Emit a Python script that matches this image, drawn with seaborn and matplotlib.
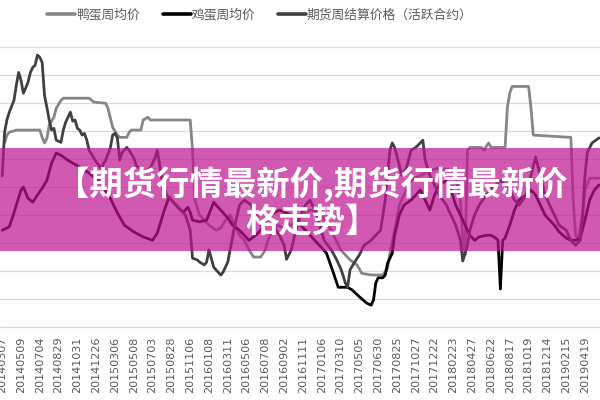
import matplotlib
matplotlib.use("Agg")
import matplotlib.pyplot as plt
import seaborn as sns
import pandas as pd
from matplotlib.patches import Rectangle

# ---------------- data ----------------
tick_labels = ["20140307", "20140509", "20140704", "20140829", "20141031", "20141226",
               "20150306", "20150508", "20150703", "20150828", "20151106", "20160108",
               "20160311", "20160506", "20160708", "20160902", "20161111", "20170106",
               "20170310", "20170505", "20170630", "20170825", "20171027", "20171222",
               "20180223", "20180427", "20180622", "20180817", "20181019", "20181214",
               "20190215", "20190419"]

series_names = ["鸭蛋周均价", "鸡蛋周均价", "期货周结算价格（活跃合约）"]

duck_week = [1, 2, 3, 6, 16, 17, 18, 19, 20, 22, 23, 25, 26, 37, 39, 44, 45, 47, 49, 50,
             53, 54, 55, 59, 60, 62, 63, 80, 81, 82, 84, 88, 91, 93, 95, 97, 99, 101, 103, 105,
             107, 110, 112, 113, 115, 117, 120, 123, 127, 131, 135, 140, 144, 148, 151, 153, 157, 162, 164, 165,
             167, 169, 172, 174, 178, 182, 186, 191, 193, 195, 196, 197, 198, 199, 204, 205, 207, 208, 214, 215,
             216, 217, 224, 225, 226, 242, 243, 244, 245, 247, 248, 250, 254]
duck_price = [5290, 5430, 5480, 5520, 5520, 5390, 5290, 5370, 5610, 5750, 5910, 6050, 6090, 6090, 6020, 6000, 5910, 5570, 5430, 5390,
              5390, 5480, 5520, 5520, 5700, 5750, 5700, 5700, 5160, 4270, 4000, 3820, 3730, 3770, 3910, 4000, 3820, 3640, 3550, 3380,
              3250, 3250, 3380, 3540, 3730, 3820, 3770, 3820, 4000, 4090, 4050, 3730, 3380, 3200, 3110, 2960, 2930, 2930, 3050, 3320,
              3730, 4180, 4450, 4620, 4710, 4800, 4840, 4800, 4710, 4270, 3550, 3290, 5160, 5210, 5210, 5160, 5290, 5210, 5210, 5930,
              6180, 6300, 6300, 5930, 5430, 5390, 4270, 3640, 3550, 4000, 4450, 4660, 4660]

egg_week = [0, 3, 5, 8, 9, 11, 13, 15, 17, 19, 21, 23, 25, 28, 30, 33, 37, 42, 46, 49,
            52, 56, 60, 64, 66, 69, 71, 72, 75, 77, 79, 80, 81, 84, 87, 90, 91, 93, 96, 98,
            101, 103, 105, 108, 110, 112, 114, 118, 123, 127, 131, 135, 138, 141, 143, 145, 147, 149, 152, 155,
            157, 158, 159, 160, 162, 163, 164, 166, 167, 169, 171, 174, 176, 178, 180, 182, 184, 186, 189, 191,
            193, 195, 197, 199, 201, 203, 206, 208, 210, 211, 212, 213, 214, 216, 218, 220, 223, 225, 227, 229,
            231, 233, 235, 237, 240, 242, 244, 246, 248, 250, 252, 254]
egg_price = [3730, 3790, 4040, 4450, 4500, 4300, 4230, 4360, 4480, 4620, 4930, 5110, 5070, 4980, 4930, 4860, 4750, 4570, 4300, 4040,
             3820, 3700, 3610, 3550, 3680, 4090, 4320, 4270, 4130, 4050, 4140, 4050, 3910, 3880, 3910, 4230, 4180, 4090, 3950, 3820,
             3730, 3640, 3550, 3640, 3730, 3880, 4000, 4090, 4000, 3820, 3640, 3460, 3320, 2960, 2710, 2710, 2710, 2660, 2540, 2430,
             2390, 2480, 2790, 2880, 2880, 2930, 3140, 3320, 3640, 4000, 4180, 4270, 4360, 4450, 4270, 4090, 4360, 4540, 4620, 4450,
             4180, 4000, 3820, 3640, 3550, 3610, 3640, 3640, 3590, 3550, 2680, 3550, 3590, 3820, 4090, 4270, 4360, 4450, 4360, 4180,
             4000, 3910, 3820, 3700, 3590, 3550, 3550, 3590, 3910, 4270, 4450, 4540]

fut_week = [0, 1, 2, 3, 5, 6, 7, 8, 9, 10, 11, 12, 13, 14, 15, 16, 17, 18, 19, 20,
            21, 22, 23, 25, 26, 27, 28, 29, 30, 31, 32, 33, 34, 35, 36, 37, 40, 42, 44, 46,
            47, 48, 49, 50, 51, 53, 54, 56, 57, 60, 63, 65, 66, 67, 68, 70, 72, 74, 76, 78,
            80, 81, 83, 84, 86, 87, 88, 90, 91, 93, 94, 96, 97, 99, 101, 103, 106, 108, 110, 112,
            114, 116, 118, 120, 121, 123, 125, 127, 129, 131, 133, 135, 137, 140, 142, 144, 145, 146, 147, 148,
            150, 152, 154, 157, 159, 161, 163, 165, 166, 167, 169, 170, 172, 174, 176, 177, 179, 180, 182, 184,
            186, 189, 191, 193, 195, 196, 198, 199, 201, 203, 206, 208, 210, 212, 214, 216, 218, 220, 223, 225,
            227, 229, 231, 233, 235, 237, 240, 242, 244, 246, 247, 248, 249, 251, 254]
fut_price = [4700, 5480, 5700, 5840, 6050, 6320, 6550, 6410, 6180, 6270, 6380, 6550, 6640, 6680, 6860, 6820, 6730, 6140, 5930, 5700,
             5520, 5550, 5340, 5300, 5520, 5660, 5750, 5840, 5680, 5700, 5550, 5520, 5430, 5460, 5340, 5160, 4950, 4840, 4980, 5200,
             5430, 5460, 5380, 4980, 5120, 5210, 5160, 5020, 4890, 4770, 4840, 5020, 5160, 4890, 4620, 4360, 4270, 4180, 4090, 4000,
             3730, 3230, 3200, 3160, 3110, 3160, 3380, 3070, 3020, 2930, 2980, 3160, 3380, 3820, 4180, 4270, 4180, 4000, 3820, 3910,
             4000, 3770, 3640, 3460, 3210, 3380, 3730, 4000, 4180, 4270, 4090, 3820, 3550, 3380, 3230, 3050, 2930, 2790, 2710, 3020,
             3160, 3290, 3460, 3550, 3640, 3730, 4270, 5160, 5290, 5210, 4890, 4710, 4840, 5160, 5210, 5250, 5340, 4980, 4710, 4540,
             4360, 4180, 4000, 3820, 3550, 3180, 3460, 3730, 4000, 4180, 4360, 4450, 4540, 4620, 4540, 4450, 4270, 4180, 4360, 4710,
             5040, 4710, 4360, 4180, 4000, 3820, 3730, 3550, 3460, 3550, 4000, 4710, 5120, 5290, 5380]

banner_text = "【期货行情最新价,期货行情最新价\n格走势】"

# ---------------- plotting ----------------
sns.set_theme(style="white")
plt.rcParams['font.family'] = ['Noto Sans CJK SC', 'DejaVu Sans']

df = pd.concat([
    pd.DataFrame({"week": duck_week, "price": duck_price, "series": series_names[0]}),
    pd.DataFrame({"week": egg_week, "price": egg_price, "series": series_names[1]}),
    pd.DataFrame({"week": fut_week, "price": fut_price, "series": series_names[2]}),
], ignore_index=True)

palette = {series_names[0]: "#868686", series_names[1]: "#000000", series_names[2]: "#404040"}

fig = plt.figure(figsize=(6, 4), dpi=100)
ax = fig.add_axes([0, 0.1825, 1, 0.7])

sns.lineplot(data=df, x="week", y="price", hue="series", hue_order=series_names,
             palette=palette, linewidth=2.0, estimator=None, sort=False, ax=ax)

ax.set_xlim(-0.94, 254.4)
ax.set_ylim(2000, 7005)
ax.set_yticks(range(2000, 7001, 500))
ax.set_yticklabels([])
ax.grid(axis="y", color="#d9d9d9", linewidth=0.9)
ax.grid(axis="x", visible=False)
ax.set_xticks(range(0, 8 * len(tick_labels), 8))
ax.set_xticklabels(tick_labels, rotation=90, fontsize=8, color="#595959",
                   family=["DejaVu Sans"])
ax.tick_params(axis="x", length=0, pad=7)
ax.tick_params(axis="y", length=0)
ax.set_xlabel("")
ax.set_ylabel("")
for s in ["top", "left", "right"]:
    ax.spines[s].set_visible(False)
ax.spines["bottom"].set_color("#d9d9d9")
ax.spines["bottom"].set_linewidth(0.9)

handles, labels = ax.get_legend_handles_labels()
if ax.get_legend() is not None:
    ax.get_legend().remove()
leg = fig.legend(handles, labels, loc="center", bbox_to_anchor=(0.433, 0.9625), ncol=3,
                 frameon=False, fontsize=9.2, handlelength=2.2, handletextpad=0.05,
                 columnspacing=1.8, labelcolor="#595959")
for h in leg.legend_handles:
    h.set_linewidth(2.6)

fig.add_artist(Rectangle((0, 0.3725), 1, 0.2575, transform=fig.transFigure,
                         facecolor="#C01291", alpha=0.7, edgecolor="none", zorder=5))
fig.text(0.52, 0.494, banner_text, ha="center", va="center", color="white",
         fontsize=24, fontweight="bold", linespacing=1.15, zorder=6,
         family=["Noto Sans CJK SC", "DejaVu Sans"])

fig.savefig("out.png", dpi=100)
